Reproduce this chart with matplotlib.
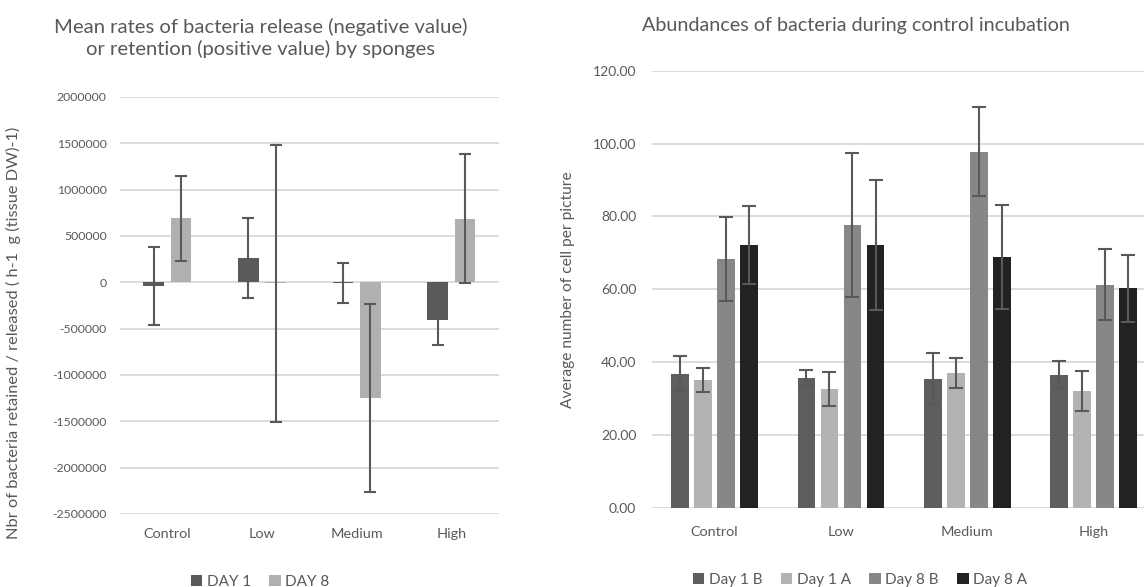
import matplotlib.pyplot as plt
import numpy as np

plt.rcParams['font.family'] = ['Lato', 'DejaVu Sans']

TXT = '#595959'
GRID = '#d9d9d9'

# left chart: retention / release rates
groups = ['Control', 'Low', 'Medium', 'High']
day1 = [-40000, 265000, -12000, -405000]
day1_err = [425000, 430000, 216000, 268000]
day8 = [690000, -8000, -1245000, 688000]
day8_err = [455000, 1495000, 1015000, 700000]

# right chart: abundances during control incubation
series_names = ['Day 1 B', 'Day 1 A', 'Day 8 B', 'Day 8 A']
abund = [
    [36.9, 35.7, 35.5, 36.6],   # Day 1 B
    [35.1, 32.7, 37.0, 32.1],   # Day 1 A
    [68.4, 77.7, 97.8, 61.2],   # Day 8 B
    [72.1, 72.2, 68.9, 60.3],   # Day 8 A
]
abund_err = [
    [4.9, 2.1, 7.0, 3.6],
    [3.2, 4.6, 4.2, 5.4],
    [11.5, 19.75, 12.1, 9.75],
    [10.75, 17.8, 14.2, 9.2],
]
series_colors = ['#5e5e5e', '#b3b3b3', '#878787', '#222222']

fig = plt.figure(figsize=(11.44, 5.87), dpi=100)

# ---- left
ax1 = fig.add_axes([0.1049, 0.1244, 0.331, 0.7104])
x = np.arange(len(groups))
w = 0.217
eb = dict(ecolor=TXT, elinewidth=1.5, capsize=4.3, capthick=1.5)
ax1.bar(x - 0.145, day1, w, color='#5a5a5a', yerr=day1_err, error_kw=eb, label='DAY 1', zorder=2)
ax1.bar(x + 0.145, day8, w, color='#b0b0b0', yerr=day8_err, error_kw=eb, label='DAY 8', zorder=2)
ax1.set_xlim(-0.5, 3.5)
ax1.set_ylim(-2500000, 2000000)
ax1.set_yticks(np.arange(-2500000, 2000001, 500000))
ax1.yaxis.set_major_formatter(plt.FuncFormatter(lambda v, p: '%d' % v))
ax1.set_xticks(x)
ax1.set_xticklabels(groups)
ax1.set_ylabel('Nbr of bacteria retained / released ( h-1  g (tissue DW)-1)', color=TXT, fontsize=11.8)
ax1.yaxis.set_label_coords(-0.2615, 0.435)

# ---- right
ax2 = fig.add_axes([0.5695, 0.1346, 0.4416, 0.745])
w2 = 0.14
step = 0.1825
for i in range(4):
    ax2.bar(x + (i - 1.5) * step, abund[i], w2, color=series_colors[i], yerr=abund_err[i],
            error_kw=dict(ecolor=TXT, elinewidth=1.5, capsize=4.7, capthick=1.5),
            label=series_names[i], zorder=2)
ax2.set_xlim(-0.5, 3.5)
ax2.set_ylim(0, 120)
ax2.set_yticks(np.arange(0, 121, 20))
ax2.yaxis.set_major_formatter(plt.FuncFormatter(lambda v, p: '%.2f' % v))
ax2.set_xticks(x)
ax2.set_xticklabels(groups)
ax2.set_ylabel('Average number of cell per picture', color=TXT, fontsize=11.2)
ax2.yaxis.set_label_coords(-0.152, 0.5)

for ax in (ax1, ax2):
    for s in ax.spines.values():
        s.set_visible(False)
    ax.grid(axis='y', color=GRID, lw=1.3, zorder=0)
    ax.set_axisbelow(True)
    ax.tick_params(length=0, colors=TXT)
    ax.tick_params(axis='x', labelsize=10.4)
ax1.tick_params(axis='y', pad=9.5, labelsize=8.8)
ax1.tick_params(axis='x', pad=10)
ax2.tick_params(axis='y', pad=11, labelsize=10)
ax2.tick_params(axis='x', pad=13)

fig.text(261 / 1144, 1 - 38 / 587,
         'Mean rates of bacteria release (negative value)\nor retention (positive value) by sponges',
         ha='center', va='center', fontsize=14.6, color=TXT, linespacing=1.3)
fig.text(856 / 1144, 1 - 25 / 587, 'Abundances of bacteria during control incubation',
         ha='center', va='center', fontsize=14.2, color=TXT)

leg_kw = dict(loc='center', frameon=False, handlelength=0.75, handleheight=0.75,
              handletextpad=0.3, columnspacing=1.2, fontsize=11, labelcolor=TXT)
h1, l1 = ax1.get_legend_handles_labels()
fig.legend(h1, l1, ncol=2, bbox_to_anchor=(260 / 1144, 1 - 582 / 587), **leg_kw)
h2, l2 = ax2.get_legend_handles_labels()
fig.legend(h2, l2, ncol=4, bbox_to_anchor=(860 / 1144, 1 - 580 / 587), **leg_kw)

fig.savefig('out.png', dpi=100)
